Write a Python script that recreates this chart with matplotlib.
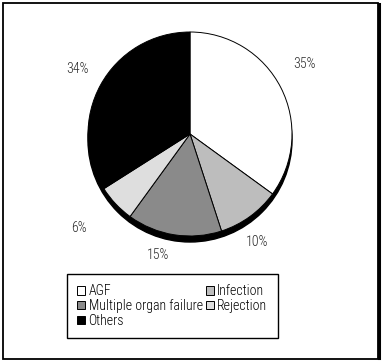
import matplotlib
matplotlib.use('Agg')
import matplotlib.pyplot as plt
from matplotlib.patches import Circle, Rectangle
from matplotlib.lines import Line2D

categories = ['AGF', 'Infection', 'Multiple organ failure', 'Rejection', 'Others']
values = [35, 10, 15, 6, 34]
colors = ['#ffffff', '#bdbdbd', '#8a8a8a', '#dedede', '#000000']

plt.rcParams['font.family'] = ['Roboto Condensed', 'Liberation Sans', 'DejaVu Sans']
plt.rcParams['font.weight'] = 'light'

W, H = 384, 364
fig = plt.figure(figsize=(W / 100, H / 100), dpi=100)
ax = fig.add_axes([0, 0, 1, 1])
cx, cy, r = 190, H - 134, 102

# shallow 3D depth below the pie
ax.add_patch(Circle((cx, cy - 6), r, facecolor='black', edgecolor='black', zorder=0))
wedges, texts, autotexts = ax.pie(
    values, colors=colors, startangle=90, counterclock=False,
    center=(cx, cy), radius=r,
    autopct=lambda p: f'{p:.0f}%', pctdistance=1.29,
    wedgeprops=dict(edgecolor='black', linewidth=0.7),
    textprops=dict(fontsize=10, color='#2a2a2a', fontweight='light'))

# small placement nudges of the percentage labels (pixels)
label_nudges = [(-3, 10), (-10, -2), (-11, 9), (-15, -4), (3, 2)]
for t, (dx, dy) in zip(autotexts, label_nudges):
    x, y = t.get_position()
    t.set_position((x + dx, y + dy))

ax.set_xlim(0, W)
ax.set_ylim(0, H)
ax.set_aspect('equal')
ax.axis('off')

order = [0, 2, 4, 1, 3]
leg = fig.legend([wedges[i] for i in order], [categories[i] for i in order],
                 ncol=2, loc='upper left', bbox_to_anchor=(67 / W, 1 - 274 / H),
                 borderaxespad=0, fancybox=False, framealpha=1, edgecolor='black',
                 prop=dict(size=10, weight='light'),
                 handlelength=0.55, handleheight=0.55, handletextpad=0.25,
                 columnspacing=0.25, labelspacing=0.05, borderpad=0.75)
leg.get_frame().set_linewidth(1.0)

fig.add_artist(Rectangle((3 / W, 1 - 359 / H), 375 / W, 356 / H, transform=fig.transFigure,
                         fill=False, lw=1.3, ec='black'))
fig.add_artist(Line2D([378.5 / W, 378.5 / W], [1 - 358 / H, 1 - 4 / H], transform=fig.transFigure,
                      lw=2.2, color='black'))

fig.savefig('out.png', dpi=100, facecolor='white')
